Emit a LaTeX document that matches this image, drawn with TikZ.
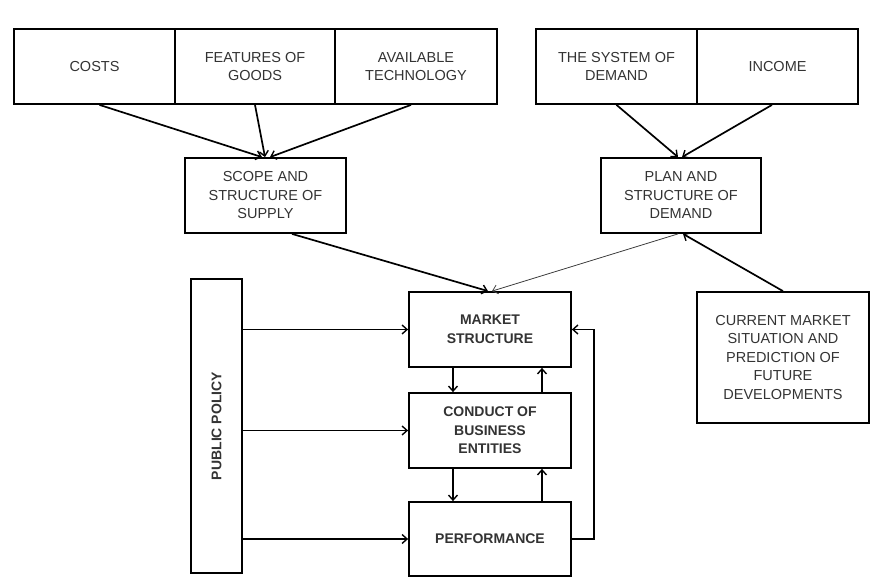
\documentclass[tikz,border=0pt]{standalone}
\usepackage{fontspec}
\setmainfont{Liberation Sans}
\usetikzlibrary{arrows.meta,calc}
\definecolor{txt}{HTML}{333333}
\begin{document}
\begin{tikzpicture}[x=1pt,y=-1pt,
  box/.style={draw=black,line width=1.8pt,rectangle,inner sep=0pt,align=center,
    text=txt,font=\fontsize{14.5}{18.5}\selectfont},
  bbox/.style={box,font=\fontsize{14}{18.5}\selectfont\bfseries},
  arr/.style={line width=1.7pt,-{Straight Barb[length=5pt,width=9pt,line width=1.4pt]}},
  thin/.style={line width=0.8pt,draw=black!75,-{Straight Barb[length=5pt,width=9pt,line width=0.8pt]}}]
\useasboundingbox (0,0) rectangle (871,580);
% top rows
\node[box,minimum width=161pt,minimum height=75pt] (costs) at (94.5,66.5) {COSTS};
\node[box,minimum width=160pt,minimum height=75pt] (feat) at (255,66.5) {FEATURES OF\\GOODS};
\node[box,minimum width=162pt,minimum height=75pt] (tech) at (416,66.5) {AVAILABLE\\TECHNOLOGY};
\node[box,minimum width=161pt,minimum height=75pt] (sys) at (616.5,66.5) {THE SYSTEM OF\\DEMAND};
\node[box,minimum width=161pt,minimum height=75pt] (inc) at (777.5,66.5) {INCOME};
% second row
\node[box,minimum width=161pt,minimum height=75pt] (scope) at (265.5,195.5) {SCOPE AND\\STRUCTURE OF\\SUPPLY};
\node[box,minimum width=160pt,minimum height=75pt] (plan) at (681,195.5) {PLAN AND\\STRUCTURE OF\\DEMAND};
% center column
\node[bbox,minimum width=162pt,minimum height=75pt] (mkt) at (490,329.5) {MARKET\\STRUCTURE};
\node[bbox,minimum width=162pt,minimum height=75pt] (cond) at (490,430.5) {CONDUCT OF\\BUSINESS\\ENTITIES};
\node[bbox,minimum width=162pt,minimum height=74pt] (perf) at (490,539) {PERFORMANCE};
\node[bbox,minimum width=51pt,minimum height=294pt] (pol) at (216.5,426) {\rotatebox{90}{PUBLIC POLICY}};
\node[box,minimum width=172pt,minimum height=131pt] (cur) at (783,357.5) {CURRENT MARKET\\SITUATION AND\\PREDICTION OF\\FUTURE\\DEVELOPMENTS};
% arrows top
\draw[arr] ([xshift=5pt]costs.south) -- ([xshift=-3.5pt]scope.north);
\draw[arr] (feat.south) -- ([xshift=-0.5pt]scope.north);
\draw[arr] ([xshift=-5pt]tech.south) -- ([xshift=4.5pt]scope.north);
\draw[arr] (sys.south) -- ([xshift=-3pt]plan.north);
\draw[arr] ([xshift=-5.5pt]inc.south) -- ([xshift=1pt]plan.north);
% to market
\draw[arr] ([xshift=26.5pt]scope.south) -- ([xshift=-2pt]mkt.north);
\draw[thin] ([xshift=-3pt]plan.south) -- ([xshift=2pt]mkt.north);
\draw[arr] (cur.north) -- ([xshift=2pt]plan.south);
% public policy
\draw[arr] (pol.east |- mkt.west) -- (mkt.west);
\draw[arr] (pol.east |- cond.west) -- (cond.west);
\draw[arr] (pol.east |- perf.west) -- (perf.west);
% vertical
\draw[arr] ([xshift=-37pt]mkt.south) -- ([xshift=-37pt]cond.north);
\draw[arr] ([xshift=52pt]cond.north) -- ([xshift=52pt]mkt.south);
\draw[arr] ([xshift=-37pt]cond.south) -- ([xshift=-37pt]perf.north);
\draw[arr] ([xshift=52pt]perf.north) -- ([xshift=52pt]cond.south);
% feedback
\draw[arr] (perf.east) -- ++(22pt,0) |- (mkt.east);
\end{tikzpicture}
\end{document}
